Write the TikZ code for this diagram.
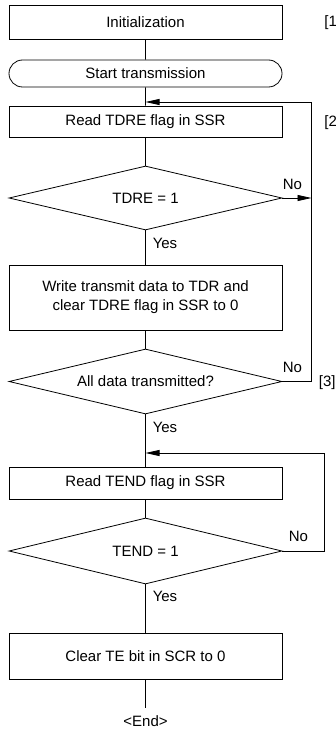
\documentclass[tikz,border=0pt]{standalone}
\usepackage{fontspec}
\setmainfont{Liberation Sans}
\usetikzlibrary{shapes.geometric,shapes.misc,arrows.meta}
\begin{document}
\begin{tikzpicture}[x=1pt,y=-1pt,
  font=\fontsize{15}{19}\selectfont,
  line width=0.8pt,
  box/.style={draw,rectangle,minimum width=273pt,inner sep=0pt,align=center},
  term/.style={draw,rounded rectangle,minimum width=273pt,inner sep=0pt},
  dec/.style={draw,diamond,shape aspect=4.2,minimum width=273pt,inner sep=0pt},
  lbl/.style={inner sep=0pt},
  arr/.style={-{Triangle[length=14pt,width=6pt]}}]
\useasboundingbox (0,0) rectangle (335,730);
\node[box,minimum height=34pt] (init) at (145.5,22) {Initialization};
\node[term,minimum height=27pt] (start) at (145.5,73.5) {Start transmission};
\node[box,minimum height=31pt] (tdre) at (145.5,121.5) {Read TDRE flag in SSR};
\node[dec,minimum height=64pt] (d1) at (145.5,198) {TDRE = 1};
\node[box,minimum height=65pt] (write) at (145.5,297.5) {Write transmit data to TDR and\\clear TDRE flag in SSR to 0};
\node[dec,minimum height=65pt] (d2) at (145.5,381.5) {All data transmitted?};
\node[box,minimum height=32pt] (tend) at (145.5,483) {Read TEND flag in SSR};
\node[dec,minimum height=66pt] (d3) at (145.5,551) {TEND = 1};
\node[box,minimum height=46pt] (clear) at (145.5,656) {Clear TE bit in SCR to 0};
\node[lbl] (end) at (145.5,721) {<End>};
\coordinate (m1) at (145.5,102);
\coordinate (m2) at (145.5,453);
\coordinate (r1) at (311.5,198);
\coordinate (r1b) at (311.5,381.5);
\coordinate (r1t) at (311.5,102);
\coordinate (r2) at (324.5,551);
\coordinate (r2t) at (324.5,453);
\coordinate (e1) at (145.5,708);
\draw (init) -- (start);
\draw (start) -- (tdre);
\draw (tdre) -- (d1);
\draw (d1) -- (write);
\draw (write) -- (d2);
\draw (d2) -- (tend);
\draw (tend) -- (d3);
\draw (d3) -- (clear);
\draw (clear) -- (e1);
\draw[arr] (d1.east) -- (r1);
\draw[arr] (d2.east) -- (r1b) -- (r1t) -- (m1);
\draw[arr] (d3.east) -- (r2) -- (r2t) -- (m2);
\node[lbl] (no1) at (292.5,184) {No};
\node[lbl] (no2) at (292.5,367) {No};
\node[lbl] (no3) at (298.5,536) {No};
\node[lbl] (yes1) at (165,243) {Yes};
\node[lbl] (yes2) at (165,427) {Yes};
\node[lbl] (yes3) at (165,596) {Yes};
\node[lbl,anchor=west] (s1) at (324,23) {[1]};
\node[lbl,anchor=west] (s2) at (324,123) {[2]};
\node[lbl,anchor=west] (s3) at (318.5,383) {[3]};
\end{tikzpicture}
\end{document}
